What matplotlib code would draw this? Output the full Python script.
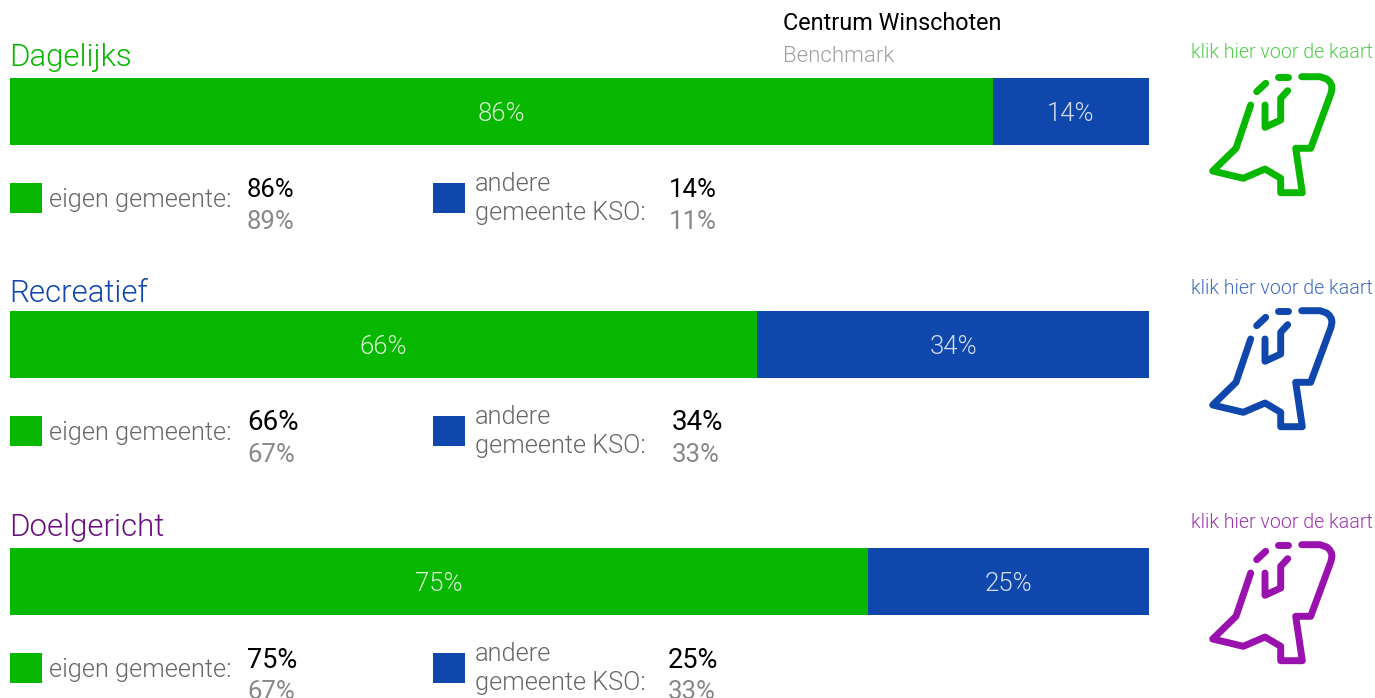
import matplotlib
matplotlib.use("Agg")
import matplotlib.pyplot as plt

plt.rcParams['font.family'] = ['Roboto', 'DejaVu Sans']

titles = ["Dagelijks", "Recreatief", "Doelgericht"]
eigen = [86.3, 65.6, 75.3]
andere = [13.7, 34.4, 24.7]
eigen_label = [86, 66, 75]
andere_label = [14, 34, 25]
eigen_bench = [89, 67, 67]
andere_bench = [11, 33, 33]

green = '#08b800'
blue = '#0f47ad'
title_colors = ['#08b800', '#0f47ad', '#680f7e']
kaart_colors = ['#4fce49', '#3f6cc0', '#9b35ae']
icon_colors = ['#08b800', '#0f47ad', '#9a12ad']

W, H = 1375, 698
fig = plt.figure(figsize=(W / 100, H / 100), dpi=100)

# whole figure in pixels, for the text and the legend squares
bg = fig.add_axes([0, 0, 1, 1])
bg.set_xlim(0, W)
bg.set_ylim(H, 0)
bg.axis('off')

bar_top = [78, 311, 548]
title_y = [58, 293, 527]
kaart_y = [52, 288, 523]
legend_y = [198, 431, 668]
icon_dy = [0, 234, 468]
andere_x = [669, 672, 668]
value_size = [[18.5, 18.5], [20, 20], [19.5, 19.5]]

# icon outline, pixels for the first icon
outline = [(1250.7, 105), (1236, 148.3), (1212.7, 171), (1243.3, 178.3), (1265, 169),
           (1280.7, 178.3), (1280.7, 192.7), (1302.3, 192.7), (1295.7, 148.3), (1310.7, 148.3),
           (1331, 93.3), (1332, 88), (1331.5, 85), (1329.5, 81.5), (1326.7, 79), (1320, 76.7), (1301.7, 76.7)]
inner = [(1265, 105), (1265, 127.3), (1280.7, 120), (1280.7, 98.3), (1287.7, 90.7)]
dash1 = [(1256.7, 91.7), (1265.7, 83.3)]
dash2 = [(1278.3, 76.7), (1287.7, 76.7)]

for i in range(3):
    ax = fig.add_axes([10 / W, 1 - (bar_top[i] + 67) / H, 1139 / W, 67 / H])
    ax.barh([0], [eigen[i]], height=1, color=green)
    ax.barh([0], [andere[i]], left=[eigen[i]], height=1, color=blue)
    ax.set_xlim(0, 100)
    ax.set_ylim(-0.5, 0.5)
    ax.axis('off')
    ax.text(eigen[i] / 2, -0.03, f"{eigen_label[i]}%", color='#d8f3d6', fontsize=18.5,
            fontweight=300, ha='center', va='center')
    ax.text(eigen[i] + andere[i] / 2, -0.03, f"{andere_label[i]}%", color='#d5def0', fontsize=18.5,
            fontweight=300, ha='center', va='center')

    bg.text(9, title_y[i], titles[i], color=title_colors[i], fontsize=22.5, fontweight=300,
            ha='left', va='center')
    bg.text(1282, kaart_y[i], "klik hier voor de kaart", color=kaart_colors[i], fontsize=14.1,
            fontweight=300, ha='center', va='center')

    y = legend_y[i]
    bg.add_patch(plt.Rectangle((10, y - 15), 32, 30, color=green, lw=0))
    bg.add_patch(plt.Rectangle((433, y - 15), 32, 30, color=blue, lw=0))
    bg.text(49, y + 2, "eigen gemeente:", color='#666666', fontsize=18.3, fontweight=300,
            ha='left', va='center')
    bg.text(475, y - 14, "andere", color='#666666', fontsize=18.3, fontweight=300,
            ha='left', va='center')
    bg.text(475, y + 15, "gemeente KSO:", color='#666666', fontsize=18.3, fontweight=300,
            ha='left', va='center')

    bg.text(247, y - 8, f"{eigen_label[i]}%", color='black', fontsize=value_size[i][0], ha='left', va='center')
    bg.text(247, y + 24, f"{eigen_bench[i]}%", color='#888888', fontsize=18.5, ha='left', va='center')
    bg.text(andere_x[i], y - 8, f"{andere_label[i]}%", color='black', fontsize=value_size[i][1], ha='left', va='center')
    bg.text(andere_x[i], y + 24, f"{andere_bench[i]}%", color='#888888', fontsize=18.5, ha='left', va='center')

    for part in [outline, inner, dash1, dash2]:
        xs = [p[0] for p in part]
        ys = [p[1] + icon_dy[i] for p in part]
        bg.plot(xs, ys, color=icon_colors[i], lw=5, solid_capstyle='round', solid_joinstyle='round')

bg.text(783, 24, "Centrum Winschoten", color='black', fontsize=16.8, ha='left', va='center')
bg.text(783, 56, "Benchmark", color='#a0a0a0', fontsize=16, fontweight=300, ha='left', va='center')

# bottom of the icon above, cut off by the top edge
bg.plot([1212, 1222], [-1.5, -1.5], color='#e6b8ee', lw=4, solid_capstyle='round')

fig.savefig("out.png", dpi=100)
